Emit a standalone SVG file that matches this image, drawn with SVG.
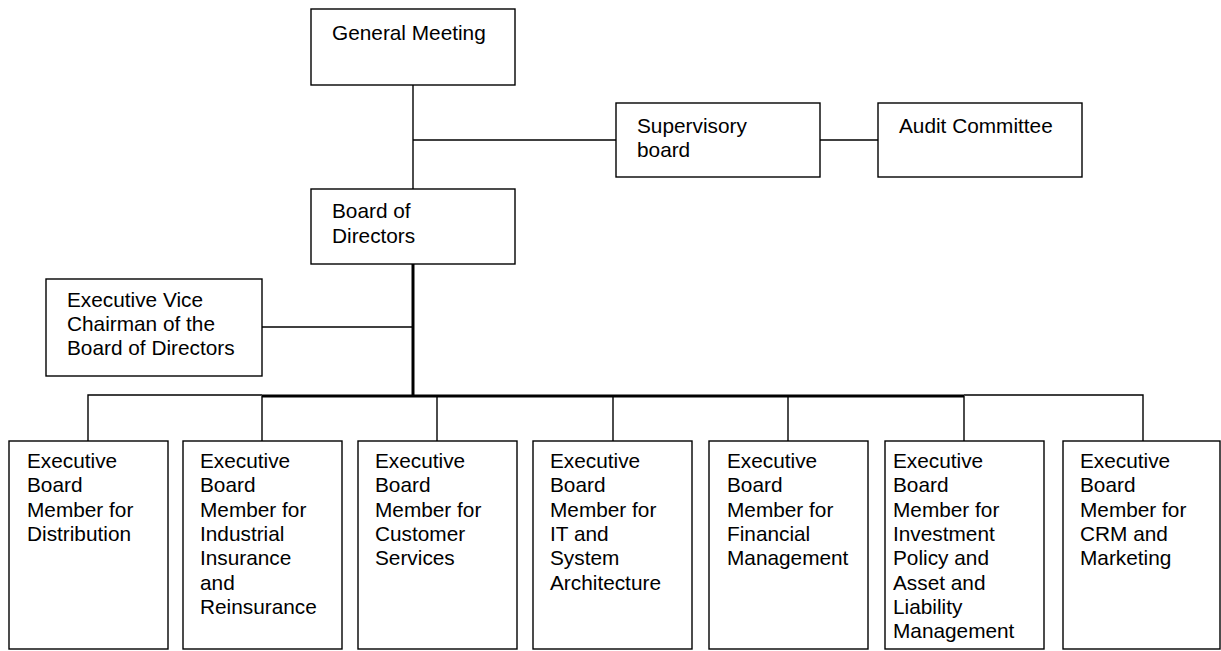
<svg xmlns="http://www.w3.org/2000/svg" width="1221" height="651" viewBox="0 0 1221 651">
<style>
.box{fill:#fff;stroke:#000;stroke-width:1.4}
.ln{stroke:#000;stroke-width:1.4;fill:none}
.thick{stroke:#000;stroke-width:3;fill:none}
text{font-family:"Liberation Sans",Arial,sans-serif;font-size:20.8px;fill:#000}
</style>
<rect width="1221" height="651" fill="#fff"/>
<g id="connectors">
<line class="ln" x1="413" y1="85" x2="413" y2="189"/>
<line class="ln" x1="413" y1="140" x2="616" y2="140"/>
<line class="ln" x1="820" y1="140" x2="878" y2="140"/>
<line class="thick" x1="413" y1="264" x2="413" y2="396"/>
<line class="ln" x1="262" y1="327" x2="413" y2="327"/>
<line class="thick" x1="262" y1="396" x2="964" y2="396"/>
<polyline class="ln" points="88,441 88,395 262,395"/>
<polyline class="ln" points="964,395 1143,395 1143,441"/>
<line class="ln" x1="262" y1="396" x2="262" y2="441"/>
<line class="ln" x1="437" y1="396" x2="437" y2="441"/>
<line class="ln" x1="613" y1="396" x2="613" y2="441"/>
<line class="ln" x1="788" y1="396" x2="788" y2="441"/>
<line class="ln" x1="964" y1="396" x2="964" y2="441"/>
</g>
<g id="general-meeting">
<rect class="box" x="311" y="9" width="204" height="76"/>
<text x="332" y="40">General Meeting</text>
</g>
<g id="supervisory-board">
<rect class="box" x="616" y="103" width="204" height="74"/>
<text x="637" y="133">Supervisory</text>
<text x="637" y="157">board</text>
</g>
<g id="audit-committee">
<rect class="box" x="878" y="103" width="204" height="74"/>
<text x="899" y="133">Audit Committee</text>
</g>
<g id="board-of-directors">
<rect class="box" x="311" y="189" width="204" height="75"/>
<text x="332" y="218">Board of</text>
<text x="332" y="243">Directors</text>
</g>
<g id="exec-vice-chairman">
<rect class="box" x="46" y="279" width="216" height="97"/>
<text x="67" y="307">Executive Vice</text>
<text x="67" y="331">Chairman of the</text>
<text x="67" y="355">Board of Directors</text>
</g>
<g id="ebm-distribution">
<rect class="box" x="9" y="441" width="159" height="208"/>
<text x="27" y="468">Executive</text>
<text x="27" y="492">Board</text>
<text x="27" y="517">Member for</text>
<text x="27" y="541">Distribution</text>
</g>
<g id="ebm-industrial">
<rect class="box" x="183" y="441" width="159" height="208"/>
<text x="200" y="468">Executive</text>
<text x="200" y="492">Board</text>
<text x="200" y="517">Member for</text>
<text x="200" y="541">Industrial</text>
<text x="200" y="565">Insurance</text>
<text x="200" y="590">and</text>
<text x="200" y="614">Reinsurance</text>
</g>
<g id="ebm-customer">
<rect class="box" x="358" y="441" width="159" height="208"/>
<text x="375" y="468">Executive</text>
<text x="375" y="492">Board</text>
<text x="375" y="517">Member for</text>
<text x="375" y="541">Customer</text>
<text x="375" y="565">Services</text>
</g>
<g id="ebm-it">
<rect class="box" x="533" y="441" width="159" height="208"/>
<text x="550" y="468">Executive</text>
<text x="550" y="492">Board</text>
<text x="550" y="517">Member for</text>
<text x="550" y="541">IT and</text>
<text x="550" y="565">System</text>
<text x="550" y="590">Architecture</text>
</g>
<g id="ebm-financial">
<rect class="box" x="709" y="441" width="159" height="208"/>
<text x="727" y="468">Executive</text>
<text x="727" y="492">Board</text>
<text x="727" y="517">Member for</text>
<text x="727" y="541">Financial</text>
<text x="727" y="565">Management</text>
</g>
<g id="ebm-investment">
<rect class="box" x="885" y="441" width="159" height="208"/>
<text x="893" y="468">Executive</text>
<text x="893" y="492">Board</text>
<text x="893" y="517">Member for</text>
<text x="893" y="541">Investment</text>
<text x="893" y="565">Policy and</text>
<text x="893" y="590">Asset and</text>
<text x="893" y="614">Liability</text>
<text x="893" y="638">Management</text>
</g>
<g id="ebm-crm">
<rect class="box" x="1063" y="441" width="157" height="208"/>
<text x="1080" y="468">Executive</text>
<text x="1080" y="492">Board</text>
<text x="1080" y="517">Member for</text>
<text x="1080" y="541">CRM and</text>
<text x="1080" y="565">Marketing</text>
</g>
</svg>
